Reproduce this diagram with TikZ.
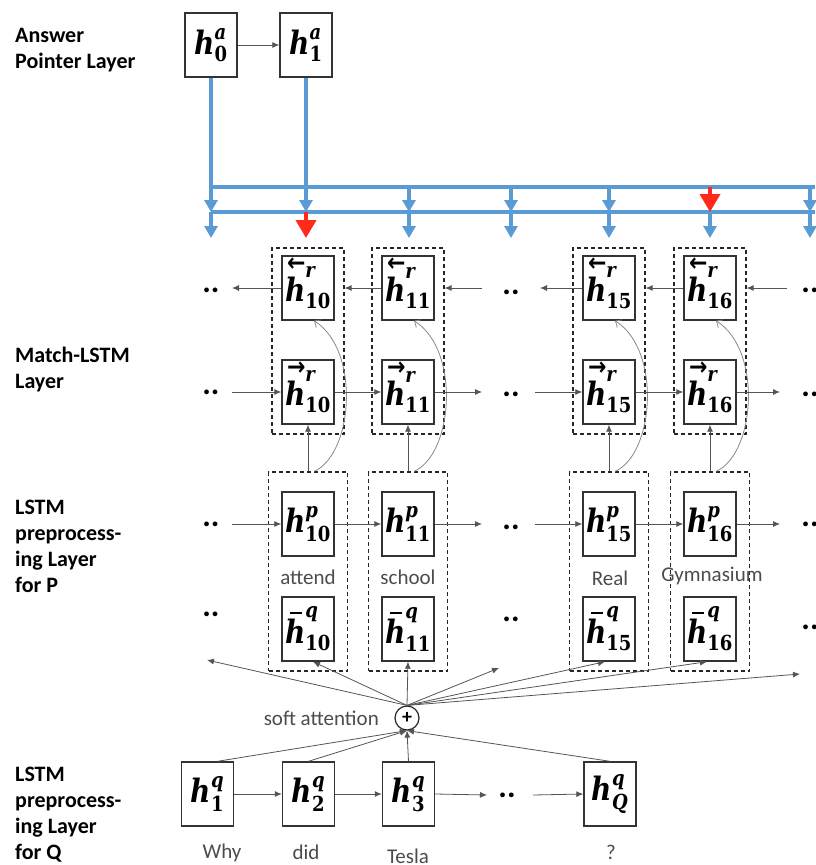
\documentclass[tikz,border=0pt]{standalone}
\usepackage{amsmath}
\usepackage{graphicx}
\usepackage[no-math]{fontspec}
\setmainfont{Carlito}
\newfontfamily\dvs{DejaVu Serif}
\newfontfamily\dvsans{DejaVu Sans}
\usetikzlibrary{arrows.meta}
\definecolor{abl}{HTML}{5B9BD5}
\definecolor{ared}{HTML}{FF2A1A}
\definecolor{cgray}{HTML}{555555}
\definecolor{lgray}{HTML}{8A8A8A}
\newcommand{\cellm}[1]{\scalebox{1}[1.15]{$#1$}}
\newcommand{\hh}{\hbox{\dvs\bfseries\itshape h}}
\newcommand{\sps}[1]{\hbox{\dvs\fontsize{18}{18}\selectfont\bfseries\itshape #1}}
\newcommand{\sbs}[1]{\hbox{\dvs\fontsize{18}{18}\selectfont\bfseries #1}}
\newcommand{\arr}[1]{\hbox{\kern2pt\dvsans\fontsize{22}{22}\selectfont\bfseries\smash{#1}}}
\newcommand{\bwd}{\overset{\arr{←}}{\hh}}
\newcommand{\fwd}{\overset{\arr{→}}{\hh}}
\newcommand{\bbar}{\overset{\hbox{\kern2pt\rule{12pt}{1.8pt}}}{\hh}}
\begin{document}
\begin{tikzpicture}[x=1pt,y=-1pt,
 cell/.style={draw=black!80, line width=1.4pt, minimum width=52pt, minimum height=64pt, inner sep=0pt, fill=white, font=\fontsize{28}{28}\selectfont},
 grp/.style={draw=black!85, line width=1.2pt, dash pattern=on 4pt off 3pt, inner sep=0pt},
 conn/.style={draw=cgray, line width=0.8pt, -{Latex[length=7pt,width=6pt]}},
 curv/.style={draw=lgray, line width=0.8pt, -{Straight Barb[length=5pt,width=9pt]}},
 lbl/.style={font=\fontsize{22}{26}\selectfont\bfseries, align=left, anchor=north west, inner sep=0pt},
 word/.style={font=\fontsize{21}{24}\selectfont, text=black!70, inner sep=0pt},
 dotsn/.style={font=\fontsize{32}{32}\selectfont\bfseries, inner sep=0pt},
 bl/.style={draw=abl, line width=4pt},
 bla/.style={draw=abl, line width=4pt, -{Triangle[width=13pt,length=12pt]}},
 rda/.style={draw=ared, line width=4pt, -{Triangle[width=20pt,length=18pt]}}
]
\useasboundingbox (0,0) rectangle (815,865);

% left labels
\node[lbl] (lab1) at (15,28) {Answer\\Pointer Layer};
\node[lbl] (lab2) at (15,347) {Match-LSTM\\Layer};
\node[lbl] (lab3) at (15,500) {LSTM\\preprocess-\\ing Layer\\for P};
\node[lbl] (lab4) at (15,767) {LSTM\\preprocess-\\ing Layer\\for Q};

% answer pointer
\node[cell] (a0) at (211,45) {\cellm{\hh^{\sps{a}}_{\sbs{0}}}};
\node[cell] (a1) at (306,45) {\cellm{\hh^{\sps{a}}_{\sbs{1}}}};
\draw[conn] (a0) -- (a1);

% groups
\foreach \n/\x in {10/308,11/408,15/609,16/710} {
  \node[grp, minimum width=72pt, minimum height=186pt] (dr\n) at (\x,341) {};
  \node[grp, minimum width=79pt, minimum height=199pt] (dp\n) at (\x,571.5) {};
  \node[cell] (rb\n) at (\x,288) {\cellm{\bwd^{\sps{r}}_{\sbs{\n}}}};
  \node[cell] (rf\n) at (\x,392) {\cellm{\fwd^{\sps{r}}_{\sbs{\n}}}};
  \node[cell] (hp\n) at (\x,524) {\cellm{\hh^{\sps{p}}_{\sbs{\n}}}};
  \node[cell] (hq\n) at (\x,629) {\cellm{\bbar^{\sps{q}}_{\sbs{\n}}}};
  \draw[conn] (dp\n.north) -- (rf\n.south);
  \draw[curv] ([xshift=6pt]dp\n.north) .. controls +(39,-17) and +(47,30) .. ([xshift=6pt]rb\n.south);
}

% words under p
\node[word] (w10) at (308,577) {attend};
\node[word] (w11) at (408,577) {school};
\node[word] (w15) at (610,578) {Real};
\node[word] (w16) at (712,576) {Gymnasium};

% dots
\foreach \i/\x/\y in {1/211/290,2/511/292,3/810/290,4/211/392,5/511/394,6/810/394,7/211/524,8/511/527,9/810/524,10/211/614,11/511/619,12/810/627,13/507/795} {
  \node[dotsn] (d\i) at (\x,\y) {..};
}

% coordinates of free ends
\coordinate (b1) at (232,288);
\coordinate (b2) at (482,288);
\coordinate (b3) at (540,288);
\coordinate (b4) at (787,288);
\coordinate (f1) at (232,392);
\coordinate (f2) at (482,392);
\coordinate (f3) at (535,392);
\coordinate (f4) at (780,392);
\coordinate (p1) at (232,524);
\coordinate (p2) at (482,524);
\coordinate (p3) at (535,524);
\coordinate (p4) at (780,524);

% backward row
\draw[conn] (rb10.west) -- (b1);
\draw[conn] (rb11.west) -- (dr10.east |- rb10);
\draw[conn] (b2) -- (dr11.east |- rb11);
\draw[conn] (rb15.west) -- (b3);
\draw[conn] (rb16.west) -- (dr15.east |- rb15);
\draw[conn] (b4) -- (dr16.east |- rb16);
% forward row
\draw[conn] (f1) -- (rf10.west);
\draw[conn] (rf10.east) -- (rf11.west);
\draw[conn] (rf11.east) -- (f2);
\draw[conn] (f3) -- (rf15.west);
\draw[conn] (rf15.east) -- (rf16.west);
\draw[conn] (rf16.east) -- (f4);
% p row
\draw[conn] (p1) -- (hp10.west);
\draw[conn] (hp10.east) -- (hp11.west);
\draw[conn] (hp11.east) -- (p2);
\draw[conn] (p3) -- (hp15.west);
\draw[conn] (hp15.east) -- (hp16.west);
\draw[conn] (hp16.east) -- (p4);

% blue pointer lines
\draw[bl] (a0.south) -- (211,187) -- (815,187);
\draw[bl] (211,212) -- (815,212);
\foreach \x in {211,409,511,609,810} { \draw[bla] (\x,187) -- (\x,212); }
\draw[bla] (a1.south) -- (306,212);
\draw[rda] (710,187) -- (710,212);
\foreach \x in {211,409,511,609,710,810} { \draw[bla] (\x,212) -- (\x,238); }
\draw[rda] (306,212) -- (306,238);

% question layer
\node[cell] (q1) at (207.5,794) {\cellm{\hh^{\sps{q}}_{\sbs{1}}}};
\node[cell] (q2) at (308.5,794) {\cellm{\hh^{\sps{q}}_{\sbs{2}}}};
\node[cell] (q3) at (408.5,794) {\cellm{\hh^{\sps{q}}_{\sbs{3}}}};
\node[cell] (qQ) at (610,794) {\cellm{\hh^{\sps{q}}_{\sps{Q}}}};
\coordinate (qa) at (487,795);
\coordinate (qb) at (533,795);
\draw[conn] (q1) -- (q2);
\draw[conn] (q2) -- (q3);
\draw[conn] (q3.east) -- (qa);
\draw[conn] (qb) -- (qQ.west);
\node[word] (wq1) at (222,853) {Why};
\node[word] (wq2) at (306,852) {did};
\node[word] (wq3) at (408,856) {Tesla};
\node[word] (wq4) at (611,852) {?};

% soft attention
\node[circle, draw=black!85, line width=1.2pt, minimum size=24pt, inner sep=0pt, fill=white, font=\fontsize{20}{20}\selectfont\bfseries] (sa) at (407,718) {+};
\node[word, anchor=east] (satxt) at (379,718) {soft attention};
\foreach \q/\dx in {q1/10,q2/0,q3/0,qQ/0} { \draw[conn] ([xshift=\dx pt]\q.north) -- (sa.south); }
\coordinate (t1) at (207,660);
\coordinate (t2) at (499,668);
\coordinate (t3) at (800,674);
\draw[conn] (sa.north) -- (t1);
\draw[conn] (sa.north) -- ([xshift=5pt]hq10.south);
\draw[conn] (sa.north) -- (hq11.south);
\draw[conn] (sa.north) -- (t2);
\draw[conn] (sa.north) -- ([xshift=-4pt]hq15.south);
\draw[conn] (sa.north) -- ([xshift=-3pt]hq16.south);
\draw[conn] (sa.north) -- (t3);
\end{tikzpicture}
\end{document}
